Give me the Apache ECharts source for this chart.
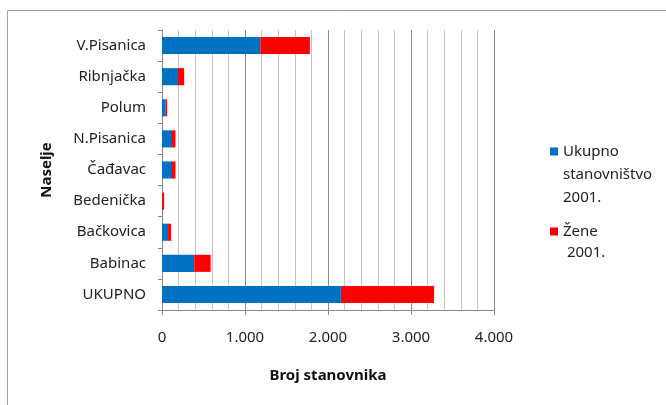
<!DOCTYPE html>
<html>
<head>
<meta charset="utf-8">
<script src="https://cdn.jsdelivr.net/npm/echarts@6/dist/echarts.min.js"></script>
<style>
  html, body { margin: 0; padding: 0; background: #fff; }
  #chart { width: 666px; height: 405px; }
</style>
</head>
<body>
<div id="chart"></div>
<script>
// naselja, odozdo prema gore (kategorijska os ide od dna)
const naselja = ['UKUPNO', 'Babinac', 'Bačkovica', 'Bedenička', 'Čađavac', 'N.Pisanica', 'Polum', 'Ribnjačka', 'V.Pisanica']
const ukupno2001 = [2154, 388, 73, 2, 109, 109, 41, 182, 1184]
const zene2001 = [1124, 198, 36, 24, 53, 53, 20, 85, 598]
const xTicks = [0, 1000, 2000, 3000, 4000]

const font = 'Noto Sans'
let chart = echarts.init(document.getElementById('chart'))

function fmt(v) {
  return String(v).replace(/\B(?=(\d{3})+(?!\d))/g, '.')
}

// kvadratić gore + nevidljiva točka dolje, da ikona stoji uz prvi red teksta
function topIcon(h) {
  return 'path://M0,0L8,0L8,8L0,8Z M0,' + h + 'L8,' + h
}

chart.setOption({
  animation: false,
  textStyle: {fontFamily: font},
  graphic: [{
    type: 'rect',
    shape: {x: 7.5, y: 10.5, width: 680, height: 420},
    style: {fill: 'none', stroke: '#a0a0a0', lineWidth: 1}
  }],
  grid: {left: 162, right: 172, top: 30, bottom: 95},
  legend: [{
    data: ['Ukupno stanovništvo 2001.'],
    left: 545,
    top: 135,
    icon: topIcon(54),
    itemWidth: 8,
    itemHeight: 54,
    itemGap: 0,
    formatter: function() { return 'Ukupno\nstanovništvo\n2001.' },
    textStyle: {fontSize: 15, color: '#222', lineHeight: 23}
  }, {
    data: ['Žene 2001.'],
    left: 545,
    top: 216,
    icon: topIcon(29),
    itemWidth: 8,
    itemHeight: 29,
    itemGap: 0,
    formatter: function() { return 'Žene\n 2001.' },
    textStyle: {fontSize: 15, color: '#222', lineHeight: 21}
  }],
  xAxis: {
    type: 'value',
    min: 0,
    max: 4000,
    interval: 1000,
    name: 'Broj stanovnika',
    nameLocation: 'middle',
    nameGap: 58,
    nameTextStyle: {fontSize: 15, fontWeight: 'bold', color: '#111'},
    axisLine: {show: true, lineStyle: {color: '#888'}},
    axisTick: {show: true, length: 5, lineStyle: {color: '#888'}},
    axisLabel: {fontSize: 15, color: '#222', margin: 20, formatter: fmt},
    splitLine: {show: true, lineStyle: {color: '#8a8a8a'}},
    minorTick: {show: false, splitNumber: 5},
    minorSplitLine: {show: true, lineStyle: {color: '#c4c4c4'}}
  },
  yAxis: {
    type: 'category',
    data: naselja,
    name: 'Naselje',
    nameLocation: 'middle',
    nameGap: 108,
    nameRotate: 90,
    nameTextStyle: {fontSize: 15, fontWeight: 'bold', color: '#111'},
    axisLine: {show: true, lineStyle: {color: '#888'}},
    axisTick: {show: true, length: 4, lineStyle: {color: '#888'}},
    axisLabel: {fontSize: 15, color: '#222', margin: 16}
  },
  series: [{
    name: 'Ukupno stanovništvo 2001.',
    type: 'bar',
    stack: 'a',
    data: ukupno2001,
    barCategoryGap: '45%',
    itemStyle: {color: '#0070C0'}
  }, {
    name: 'Žene 2001.',
    type: 'bar',
    stack: 'a',
    data: zene2001,
    barCategoryGap: '45%',
    itemStyle: {color: '#FF0000'}
  }]
})
</script>
</body>
</html>
